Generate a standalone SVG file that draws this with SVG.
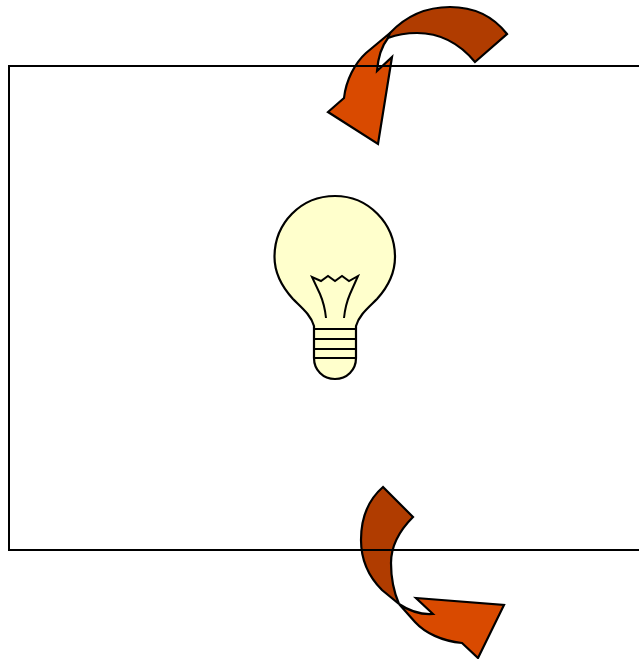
<svg xmlns="http://www.w3.org/2000/svg" width="639" height="659" viewBox="0 0 639 659">
<style>
.o{stroke:#000;stroke-width:2.2;stroke-linejoin:miter}
.dark{fill:#b03c00}
.lite{fill:#d94a00}
.l{fill:none;stroke:#000;stroke-width:2}
</style>
<rect width="639" height="659" fill="#fff"/>
<g id="arrow-top">
<path class="o lite" d="M390 33L366 53C355 63 346 80 344 98L328 112L378 144L392 57L377 71C378 58 381 47 388 38Z"/>
<path class="o dark" d="M507 34C493 16 473 7 450 7C425 7 405 17 390 33L388 38C396 35 405 33 417 33C441 33 460 44 475 62Z"/>
</g>
<g id="arrow-bottom">
<path class="o lite" d="M399 604L415 622C425 633 442 641 462 643L478 658L504 605L416 598L433 614C420 615 408 610 399 604Z"/>
<path class="o dark" d="M383 487C368 500 361 518 361 540C361 562 370 578 382 590L399 604C393 590 391 577 391 563C391 546 400 530 413 517Z"/>
</g>
<g id="bulb">
<path class="o" fill="#ffffcc" d="M335 196C301 196 274.500 223 274.500 257C274.500 274 283 288 293 299C302 308 311 315 314 326V358C314 370 323 379 335 379C347 379 356 370 356 358V326C359 315 368 308 377 299C387 288 395 274 395 257C395 223 368 196 335 196Z"/>
<path class="l" d="M326 318C325 308 323 301 320 294L312 277L321 281L328 276L335 281L342 276L349 281L358 276L350 294C347 301 345 308 344 318"/>
<path class="l" d="M314 329H356M314 339H356M314 349H356M314 358H356"/>
</g>
<g id="connectors">
<path class="l" d="M640 66H9V550H640"/>
</g>
</svg>
